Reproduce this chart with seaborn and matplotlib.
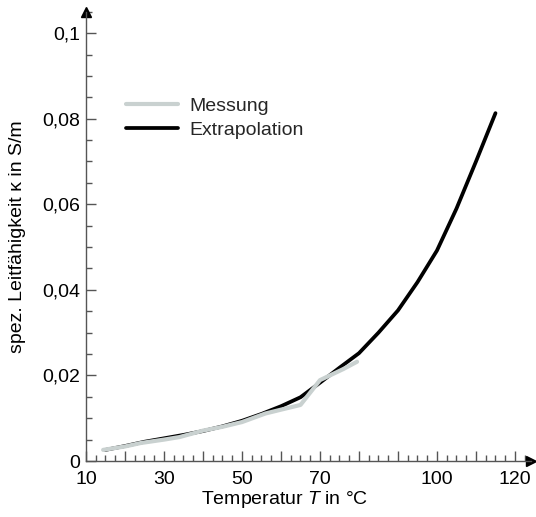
import matplotlib
matplotlib.use("Agg")
import matplotlib.pyplot as plt
import seaborn as sns
import pandas as pd
from matplotlib.ticker import MultipleLocator, FuncFormatter

# Temperatures in °C and specific conductivity in S/m
temp_extrapolation = [15, 20, 25, 30, 35, 40, 45, 50, 55, 60, 65, 70, 75,
                      80, 85, 90, 95, 100, 105, 110, 115]
kappa_extrapolation = [0.0026, 0.0035, 0.0045, 0.0053, 0.0061, 0.0070, 0.0081,
                       0.0094, 0.0110, 0.0128, 0.0149, 0.0183, 0.0218, 0.0252,
                       0.0300, 0.0352, 0.0418, 0.0492, 0.0590, 0.0700, 0.0813]

temp_messung = [14.4, 20, 24, 30, 34, 40, 45, 50, 56, 60, 65, 70, 76, 79.5]
kappa_messung = [0.0026, 0.0034, 0.0042, 0.0050, 0.0056, 0.0071, 0.0080,
                 0.0091, 0.0111, 0.0120, 0.0131, 0.0189, 0.0215, 0.0232]

series_labels = ["Messung", "Extrapolation"]
x_tick_labels = [10, 30, 50, 70, 100, 120]

sns.set_theme(style="white")
plt.rcParams["font.family"] = ["Liberation Sans", "DejaVu Sans"]
plt.rcParams["mathtext.fontset"] = "custom"
plt.rcParams["mathtext.it"] = "Liberation Sans:italic"
plt.rcParams["mathtext.rm"] = "Liberation Sans"

FS = 14

df_ext = pd.DataFrame({"T": temp_extrapolation, "kappa": kappa_extrapolation})
df_mes = pd.DataFrame({"T": temp_messung, "kappa": kappa_messung})

fig = plt.figure(figsize=(5.36, 5.17), dpi=100)
ax = fig.add_axes([0.1604, 0.1083, 0.8295, 0.869])

sns.lineplot(data=df_ext, x="T", y="kappa", ax=ax, color="black", linewidth=2.7,
             estimator=None, sort=False, label=series_labels[1])
sns.lineplot(data=df_mes, x="T", y="kappa", ax=ax, color="#c9d1d0", linewidth=3.0,
             estimator=None, sort=False, label=series_labels[0])

ax.set_xlim(10, 124)
ax.set_ylim(0, 0.105)

# Axis spines with arrow heads
for side in ("top", "right"):
    ax.spines[side].set_visible(False)
for side in ("left", "bottom"):
    ax.spines[side].set_color("#555555")
    ax.spines[side].set_linewidth(1.0)
ax.plot(1, 0, marker=">", color="black", markersize=7, transform=ax.transAxes,
        clip_on=False)
ax.plot(0, 1, marker="^", color="black", markersize=7, transform=ax.transAxes,
        clip_on=False)

# Ticks point into the plot area
ax.xaxis.set_major_locator(MultipleLocator(10))
ax.xaxis.set_minor_locator(MultipleLocator(2.5))
ax.yaxis.set_major_locator(MultipleLocator(0.02))
ax.yaxis.set_minor_locator(MultipleLocator(0.005))
ax.xaxis.set_major_formatter(
    FuncFormatter(lambda v, p: f"{int(round(v))}" if int(round(v)) in x_tick_labels else ""))
ax.yaxis.set_major_formatter(
    FuncFormatter(lambda v, p: ("0" if abs(v) < 1e-9 else f"{v:g}".replace(".", ","))))
ax.tick_params(axis="both", which="major", direction="in", length=7, width=1,
               color="#555555", labelsize=FS, labelcolor="black", pad=4,
               bottom=True, left=True)
ax.tick_params(axis="x", which="major", pad=7)
ax.tick_params(axis="both", which="minor", direction="in", length=4, width=1,
               color="#555555", bottom=True, left=True)

ax.set_xlabel("Temperatur $T$ in °C", fontsize=FS, color="black")
ax.set_ylabel("spez. Leitfähigkeit κ in S/m", fontsize=FS, color="black")
ax.xaxis.set_label_coords(0.447, -0.063)
ax.yaxis.set_label_coords(-0.135, 0.50)

handles, labels = ax.get_legend_handles_labels()
order = [labels.index(s) for s in series_labels]
ax.legend([handles[i] for i in order], [labels[i] for i in order],
          loc="upper left", bbox_to_anchor=(0.072, 0.826), frameon=False,
          fontsize=FS, handlelength=2.7, handletextpad=0.55, labelspacing=0.3,
          borderaxespad=0)

fig.savefig("out.png", dpi=100)
